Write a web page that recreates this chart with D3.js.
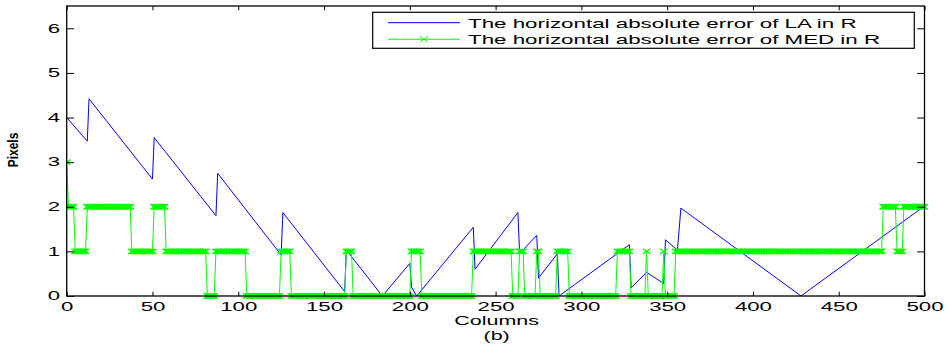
<!DOCTYPE html>
<html>
<head>
<meta charset="utf-8">
<script src="https://cdn.jsdelivr.net/npm/d3@7/dist/d3.min.js"></script>
<style>
  body { margin: 0; background: #fff; }
  svg { display: block; }
  text { font-family: "Liberation Sans", Arial, Helvetica, sans-serif; fill: #000; }
</style>
</head>
<body>
<svg id="chart" width="949" height="349"></svg>
<script>
// Tick values
const xTicks = [0, 50, 100, 150, 200, 250, 300, 350, 400, 450, 500];
const yTicks = [0, 1, 2, 3, 4, 5, 6];

// Series names and axis labels
const seriesNames = [
  "The horizontal absolute error of LA in R",
  "The horizontal absolute error of MED in R"
];
const xLabel = "Columns";
const subLabel = "(b)";
const yLabel = "Pixels";

// LA error: vertices of the piecewise line [column, pixels]
const laPoints = [
  [0, 4.0], [12, 3.47], [13, 4.42], [50, 2.62], [51, 3.55],
  [87, 1.8], [88, 2.75], [125, 0.92], [126, 1.87], [162, 0.1],
  [163, 1.03], [184, 0], [200, 0.73], [201, 0.2], [204, 0],
  [237, 1.54], [238, 0.6], [263, 1.87], [264, 0.95], [274, 1.36],
  [275, 0.4], [286, 0.95], [287, 0], [328, 1.15], [329, 0.18],
  [338, 0.53], [348, 0.28], [349, 1.26], [356, 1.03], [358, 1.97],
  [428, 0], [498, 1.96]
];

// MED error per column, as runs [firstColumn, lastColumn, pixels]
const medSteps = [
  [0, 0, 3], [1, 4, 2], [5, 11, 1], [12, 37, 2], [38, 50, 1],
  [51, 57, 2], [58, 81, 1], [82, 86, 0], [87, 104, 1], [105, 124, 0],
  [125, 130, 1], [131, 162, 0], [163, 166, 1], [167, 200, 0], [201, 206, 1],
  [207, 236, 0], [237, 259, 1], [260, 263, 0], [264, 266, 1], [267, 273, 0],
  [274, 275, 1], [276, 285, 0], [286, 292, 1], [293, 320, 0], [321, 328, 1],
  [329, 337, 0], [338, 338, 1], [339, 347, 0], [348, 348, 1], [349, 354, 0],
  [355, 475, 1], [476, 483, 2], [484, 487, 1], [488, 500, 2]
];

const medPoints = [];
medSteps.forEach(([a, b, v]) => { for (let c = a; c <= b; c++) medPoints.push([c, v]); });

const svg = d3.select("#chart");
const plot = { left: 66.7, right: 924.5, top: 6, bottom: 296 };
const x = d3.scaleLinear().domain([0, 500]).range([plot.left, plot.right]);
const y = d3.scaleLinear().domain([0, 6.5]).range([plot.bottom, plot.top]);

const SX = 1.72;       // horizontal widening of the lettering
const TICK_SX = 1.85;
const FS = 13;         // font size
const TICK_FS = 12;
const blue = "#0000ff", green = "#00ff00";

// Clip for the data marks
svg.append("clipPath").attr("id", "clip")
  .append("rect").attr("x", plot.left).attr("y", plot.top)
  .attr("width", plot.right - plot.left + 4).attr("height", plot.bottom - plot.top + 3);

const line = d3.line().x(d => x(d[0])).y(d => y(d[1]));
const marks = svg.append("g").attr("clip-path", "url(#clip)");

marks.append("path").datum(laPoints)
  .attr("d", line).attr("fill", "none").attr("stroke", blue).attr("stroke-width", 1);

marks.append("path").datum(medPoints)
  .attr("d", line).attr("fill", "none").attr("stroke", green).attr("stroke-width", 1);

// x-shaped markers
const mw = 3.8, mh = 2.6;
const crossPath = `M${-mw},${-mh}L${mw},${mh}M${-mw},${mh}L${mw},${-mh}`;
marks.append("g").selectAll("path").data(medPoints).join("path")
  .attr("transform", d => `translate(${x(d[0])},${y(d[1])})`)
  .attr("d", crossPath).attr("fill", "none").attr("stroke", green).attr("stroke-width", 1.4);

// Axes with inward ticks on all four sides
function styleAxis(g) {
  g.select(".domain").remove();
  g.selectAll(".tick line").attr("stroke", "#000").attr("stroke-width", 1);
  g.selectAll("text").attr("font-size", TICK_FS).attr("fill", "#000");
}

const tickX = 4.3, tickY = 7.3;
const fmt = d3.format("d");

const gx = svg.append("g").attr("transform", `translate(0,${plot.bottom})`)
  .call(d3.axisBottom(x).tickValues(xTicks).tickFormat(fmt)
    .tickSizeInner(-tickX).tickSizeOuter(0).tickPadding(6))
  .call(styleAxis);
gx.selectAll(".tick text").attr("transform", `scale(${TICK_SX},1)`).attr("x", 0);

const gy = svg.append("g").attr("transform", `translate(${plot.left},0)`)
  .call(d3.axisLeft(y).tickValues(yTicks).tickFormat(fmt)
    .tickSizeInner(-tickY).tickSizeOuter(0))
  .call(styleAxis);
gy.selectAll(".tick text").attr("transform", `scale(${TICK_SX},1)`).attr("x", -6.5 / TICK_SX);

svg.append("g").attr("transform", `translate(0,${plot.top})`)
  .call(d3.axisTop(x).tickValues(xTicks).tickSizeInner(-tickX).tickSizeOuter(0).tickFormat(""))
  .call(styleAxis);

svg.append("g").attr("transform", `translate(${plot.right},0)`)
  .call(d3.axisRight(y).tickValues(yTicks).tickSizeInner(-tickY).tickSizeOuter(0).tickFormat(""))
  .call(styleAxis);

// Plot frame
svg.append("rect")
  .attr("x", plot.left).attr("y", plot.top)
  .attr("width", plot.right - plot.left).attr("height", plot.bottom - plot.top)
  .attr("fill", "none").attr("stroke", "#000").attr("stroke-width", 1.3);

// Axis labels
const midX = (plot.left + plot.right) / 2 + 1;
svg.append("text")
  .attr("transform", `translate(${midX},325) scale(${SX},1)`)
  .attr("text-anchor", "middle").attr("font-size", 12.5).text(xLabel);
svg.append("text")
  .attr("transform", `translate(${midX},339.5) scale(${SX},1)`)
  .attr("text-anchor", "middle").attr("font-size", 12.5).text(subLabel);
svg.append("text")
  .attr("transform", `translate(18,150) rotate(-90) scale(1,1.25)`)
  .attr("text-anchor", "middle").attr("font-size", 12).attr("font-weight", "bold").text(yLabel);

// Legend
const leg = svg.append("g");
leg.append("rect")
  .attr("x", 372.7).attr("y", 12.3).attr("width", 541.6).attr("height", 36)
  .attr("fill", "#fff").attr("stroke", "#000").attr("stroke-width", 1.2);

const rows = [
  { name: seriesNames[0], color: blue, marker: false, cy: 22.7 },
  { name: seriesNames[1], color: green, marker: true, cy: 39.3 }
];
rows.forEach(r => {
  leg.append("line").attr("x1", 388).attr("x2", 460).attr("y1", r.cy).attr("y2", r.cy)
    .attr("stroke", r.color).attr("stroke-width", 1);
  if (r.marker) {
    leg.append("path").attr("transform", `translate(424,${r.cy})`)
      .attr("d", crossPath).attr("fill", "none").attr("stroke", r.color).attr("stroke-width", 1);
  }
  leg.append("text")
    .attr("transform", `translate(468,${r.cy + 4.8}) scale(${SX},1)`)
    .attr("font-size", FS).text(r.name);
});
</script>
</body>
</html>
